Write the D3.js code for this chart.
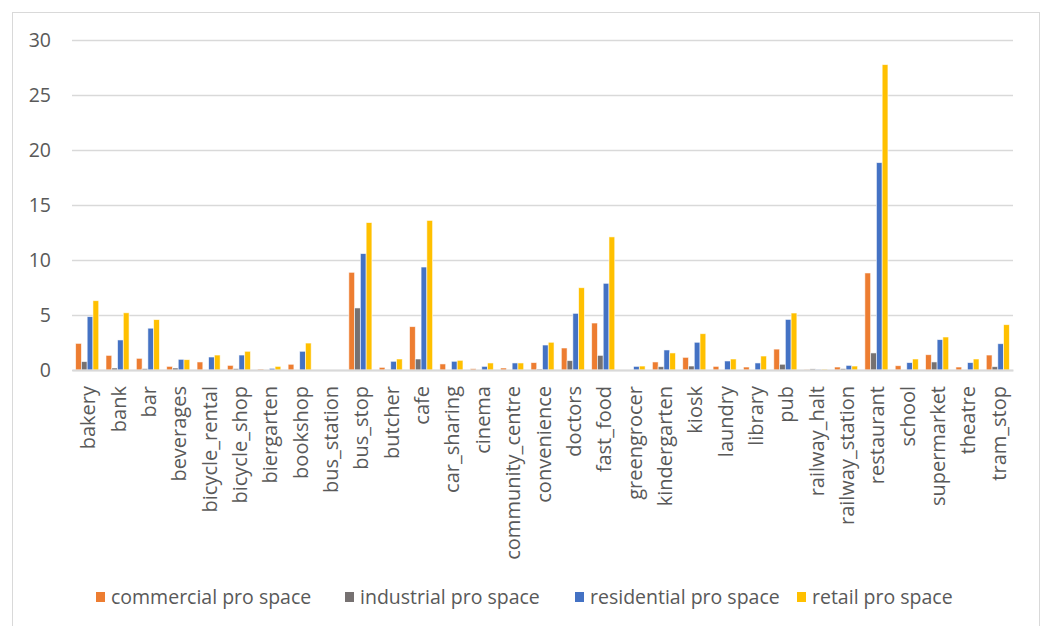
<!DOCTYPE html>
<html>
<head>
<meta charset="utf-8">
<script src="https://cdn.jsdelivr.net/npm/d3@7"></script>
<style>
  html, body { margin: 0; padding: 0; background: #fff; overflow: hidden; }
  svg text { font-family: "Open Sans", "Noto Sans", sans-serif; fill: #595959; }
</style>
</head>
<body>
<svg id="chart" width="1046" height="626"></svg>
<script>
// Amenity categories along the x axis
const categories = [
  "bakery", "bank", "bar", "beverages", "bicycle_rental", "bicycle_shop",
  "biergarten", "bookshop", "bus_station", "bus_stop", "butcher", "cafe",
  "car_sharing", "cinema", "community_centre", "convenience", "doctors",
  "fast_food", "greengrocer", "kindergarten", "kiosk", "laundry", "library",
  "pub", "railway_halt", "railway_station", "restaurant", "school",
  "supermarket", "theatre", "tram_stop"
];

// One value per category for each land-use series
const commercial = [2.42, 1.33, 1.06, 0.33, 0.73, 0.42, 0.09, 0.52, 0, 8.88, 0.24, 3.94,
  0.55, 0.12, 0.18, 0.67, 2.0, 4.27, 0, 0.73, 1.15, 0.33, 0.27,
  1.9, 0.03, 0.27, 8.82, 0.39, 1.39, 0.27, 1.36];
const industrial = [0.76, 0.18, 0.12, 0.18, 0, 0.12, 0, 0, 0, 5.64, 0.03, 1.0,
  0, 0, 0, 0.09, 0.85, 1.33, 0, 0.3, 0.36, 0, 0,
  0.52, 0.1, 0.12, 1.55, 0, 0.73, 0, 0.3];
const residential = [4.85, 2.73, 3.8, 0.97, 1.18, 1.36, 0.15, 1.7, 0, 10.58, 0.79, 9.36,
  0.79, 0.33, 0.64, 2.27, 5.15, 7.88, 0.33, 1.82, 2.52, 0.82, 0.64,
  4.6, 0.05, 0.42, 18.85, 0.67, 2.76, 0.67, 2.39];
const retail = [6.3, 5.2, 4.58, 0.94, 1.36, 1.7, 0.33, 2.45, 0, 13.4, 1.0, 13.6,
  0.88, 0.64, 0.64, 2.52, 7.48, 12.1, 0.36, 1.55, 3.3, 1.0, 1.27,
  5.18, 0.08, 0.36, 27.76, 1.0, 3.0, 1.0, 4.12];

const seriesNames = ["commercial pro space", "industrial pro space", "residential pro space", "retail pro space"];
const seriesValues = [commercial, industrial, residential, retail];
const seriesColors = ["#ED7D31", "#767171", "#4472C4", "#FFC000"];
const yTicks = [0, 5, 10, 15, 20, 25, 30];

const svg = d3.select("#chart");
const plot = { left: 72, right: 1013, top: 40, bottom: 370 };

// Outer chart frame (its lower edge runs past the bottom of the view)
svg.append("rect")
  .attr("x", 12.5).attr("y", 12.5)
  .attr("width", 1027).attr("height", 630)
  .attr("fill", "#fff").attr("stroke", "#d9d9d9").attr("stroke-width", 1);

const x0 = d3.scaleBand().domain(categories)
  .range([plot.left, plot.right]).paddingInner(0.24).paddingOuter(0.12);
const x1 = d3.scaleBand().domain(seriesNames)
  .range([0, x0.bandwidth()]).padding(0);
const y = d3.scaleLinear().domain([0, 30]).range([plot.bottom, plot.top]);

// Horizontal gridlines and value labels
const yAxis = d3.axisLeft(y).tickValues(yTicks)
  .tickSize(-(plot.right - plot.left)).tickPadding(21);
const gy = svg.append("g").attr("transform", `translate(${plot.left},0)`).call(yAxis);
gy.select(".domain").remove();
gy.selectAll(".tick line").attr("stroke", "#d9d9d9").attr("stroke-width", 1.3);
gy.selectAll(".tick text").style("font-size", "19.5px").attr("fill", "#595959");

// Grouped bars
const groups = svg.append("g").selectAll("g")
  .data(categories)
  .join("g")
  .attr("transform", d => `translate(${x0(d)},0)`);

groups.selectAll("rect")
  .data((c, i) => seriesNames.map((s, k) => ({ s, v: seriesValues[k][i], color: seriesColors[k] })))
  .join("rect")
  .attr("x", d => x1(d.s))
  .attr("width", x1.bandwidth())
  .attr("y", d => y(d.v))
  .attr("height", d => y(0) - y(d.v))
  .attr("fill", d => d.color)
  .attr("stroke", "#fff")
  .attr("stroke-width", 0.8)
  .attr("stroke-opacity", 0.7);

// Category axis baseline and labels
const xAxis = d3.axisBottom(x0).tickSize(0).tickPadding(16);
const gx = svg.append("g").attr("transform", `translate(0,${plot.bottom})`).call(xAxis);
gx.select(".domain").attr("stroke", "#d9d9d9").attr("stroke-width", 2);
gx.selectAll(".tick text")
  .style("font-size", "20px")
  .attr("fill", "#595959")
  .attr("text-anchor", "end")
  .attr("dy", "0.35em")
  .attr("transform", "rotate(-90)")
  .attr("x", -16)
  .attr("y", 1);

// Legend along the bottom
const legendX = [96, 345, 575, 797];
const legend = svg.append("g").selectAll("g")
  .data(seriesNames)
  .join("g")
  .attr("transform", (d, i) => `translate(${legendX[i]},597)`);
legend.append("rect")
  .attr("x", 0).attr("y", -5).attr("width", 9).attr("height", 10)
  .attr("fill", (d, i) => seriesColors[i]);
legend.append("text")
  .attr("x", 15).attr("y", 0).attr("dy", "0.35em")
  .style("font-size", "19.5px")
  .text(d => d);
</script>
</body>
</html>
